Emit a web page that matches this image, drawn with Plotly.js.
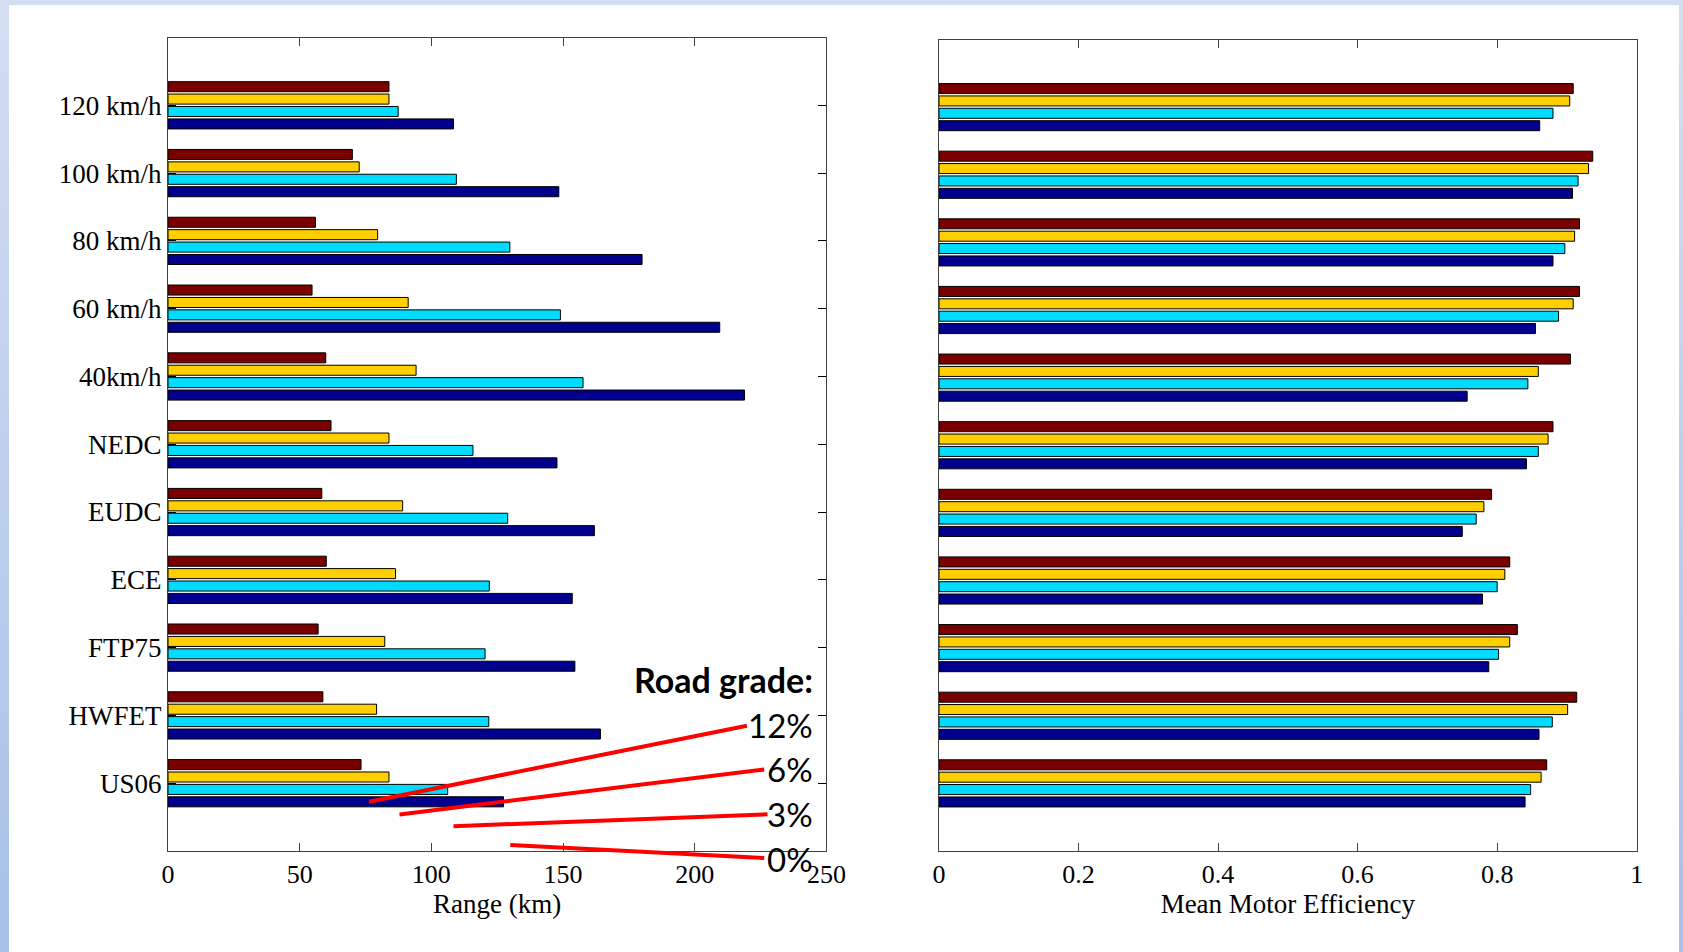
<!DOCTYPE html>
<html>
<head>
<meta charset="utf-8">
<script src="https://cdn.plot.ly/plotly-3.0.1.min.js"></script>
<style>
  html, body { margin: 0; padding: 0; background: #ffffff; width: 1683px; height: 952px; overflow: hidden; }
  #topstrip { position: absolute; left: 0; top: 0; width: 1683px; height: 5px; background: #d3dff1; }
  #leftstrip { position: absolute; left: 0; top: 0; width: 9px; height: 952px; background: linear-gradient(#d3dff1, #a8c0e8); }
  #rightstrip { position: absolute; left: 1679px; top: 0; width: 4px; height: 952px; background: linear-gradient(#d3dff1, #a8c0e8); }
  #chart { position: absolute; left: 0; top: 0; width: 1683px; height: 952px; }
</style>
</head>
<body>
<div id="topstrip"></div>
<div id="leftstrip"></div>
<div id="rightstrip"></div>
<div id="chart"></div>
<script>
// ---- data (bottom to top category order) ----
const categories = ["US06", "HWFET", "FTP75", "ECE", "EUDC", "NEDC", "40km/h", "60 km/h", "80 km/h", "100 km/h", "120 km/h"];
const gradeLabels = ["0%", "3%", "6%", "12%"];

// Range (km)
const range0  = [127.4, 164.2, 154.5, 153.5, 161.9, 147.7, 218.9, 209.5, 180.0, 148.4, 108.4];
const range3  = [106.2, 121.8, 120.4, 122.0, 129.0, 115.8, 157.6, 149.0, 129.8, 109.5, 87.4];
const range6  = [83.9, 79.2, 82.3, 86.4, 89.1, 83.9, 94.2, 91.2, 79.6, 72.6, 83.9];
const range12 = [73.3, 58.8, 57.0, 60.1, 58.4, 61.9, 59.9, 54.7, 56.0, 70.0, 83.9];

// Mean motor efficiency
const eff0  = [0.840, 0.860, 0.788, 0.779, 0.750, 0.842, 0.757, 0.855, 0.880, 0.908, 0.861];
const eff3  = [0.848, 0.879, 0.802, 0.800, 0.770, 0.859, 0.844, 0.888, 0.897, 0.916, 0.880];
const eff6  = [0.863, 0.901, 0.818, 0.811, 0.781, 0.873, 0.859, 0.909, 0.911, 0.931, 0.904];
const eff12 = [0.871, 0.914, 0.829, 0.818, 0.792, 0.880, 0.905, 0.918, 0.918, 0.937, 0.909];

const rangeTicks = [0, 50, 100, 150, 200, 250];
const effTicks = [0, 0.2, 0.4, 0.6, 0.8, 1];

// ---- styling ----
const colors = ["#00008c", "#00dcff", "#ffcf00", "#7a0000"];
const W = 1683, H = 952;
const px = v => v / W;
const py = v => 1 - v / H;

const rangeSeries = [range0, range3, range6, range12];
const effSeries = [eff0, eff3, eff6, eff12];

const traces = [];
rangeSeries.forEach((vals, i) => {
  traces.push({
    type: "bar", orientation: "h", x: vals, y: categories, name: gradeLabels[i],
    xaxis: "x", yaxis: "y",
    marker: { color: colors[i], line: { color: "#000000", width: 1 } },
    showlegend: false, hoverinfo: "x+y"
  });
});
effSeries.forEach((vals, i) => {
  traces.push({
    type: "bar", orientation: "h", x: vals, y: categories, name: gradeLabels[i],
    xaxis: "x2", yaxis: "y2",
    marker: { color: colors[i], line: { color: "#000000", width: 1 } },
    showlegend: false, hoverinfo: "x+y"
  });
});

const tickFont = { family: "Liberation Serif, Times New Roman, serif", size: 26, color: "#000000" };
const yTickFont = { family: "Liberation Serif, Times New Roman, serif", size: 27, color: "#000000" };
const titleFont = { family: "Liberation Serif, Times New Roman, serif", size: 27, color: "#000000" };
const noteFont = { family: "Lato, Open Sans, sans-serif", size: 33, color: "#000000" };

const axisCommon = {
  showline: true, linecolor: "#404040", linewidth: 1, mirror: true,
  showgrid: false, zeroline: false, automargin: false
};

const layout = {
  width: W, height: H,
  margin: { l: 0, r: 0, t: 0, b: 0 },
  paper_bgcolor: "rgba(0,0,0,0)",
  plot_bgcolor: "#ffffff",
  barmode: "group",
  bargap: 0.268,
  bargroupgap: 0.19,
  xaxis: Object.assign({}, axisCommon, {
    domain: [px(168), px(826.4)],
    range: [0, 250], tickvals: rangeTicks, ticktext: rangeTicks.map(String),
    ticks: "inside", ticklen: 8, tickcolor: "#404040", mirror: "ticks",
    tickfont: tickFont,
    title: { text: "Range (km)", font: titleFont, standoff: 5 },
    anchor: "y"
  }),
  yaxis: Object.assign({}, axisCommon, {
    domain: [py(851), py(37.5)],
    type: "category", categoryorder: "array", categoryarray: categories,
    range: [-1, 11],
    ticks: "inside", ticklen: 8, tickcolor: "#000000", mirror: "ticks",
    tickfont: yTickFont, ticklabelstandoff: 0,
    anchor: "x"
  }),
  xaxis2: Object.assign({}, axisCommon, {
    domain: [px(939), px(1636.7)],
    range: [0, 1], tickvals: effTicks, ticktext: effTicks.map(String),
    ticks: "inside", ticklen: 8, tickcolor: "#404040", mirror: "ticks",
    tickfont: tickFont,
    title: { text: "Mean Motor Efficiency", font: titleFont, standoff: 5 },
    anchor: "y2"
  }),
  yaxis2: Object.assign({}, axisCommon, {
    domain: [py(851), py(39.5)],
    type: "category", categoryorder: "array", categoryarray: categories,
    range: [-1, 11],
    ticks: "", showticklabels: false,
    anchor: "x2"
  }),
  shapes: [
    { type: "line", xref: "paper", yref: "paper", x0: px(746.9), y0: py(725.7), x1: px(369), y1: py(801.7), line: { color: "#ff0000", width: 4 } },
    { type: "line", xref: "paper", yref: "paper", x0: px(764.2), y0: py(769.5), x1: px(399.5), y1: py(814.4), line: { color: "#ff0000", width: 4 } },
    { type: "line", xref: "paper", yref: "paper", x0: px(767.5), y0: py(814.3), x1: px(453.5), y1: py(826.2), line: { color: "#ff0000", width: 4 } },
    { type: "line", xref: "paper", yref: "paper", x0: px(764.2), y0: py(858), x1: px(510.3), y1: py(844.9), line: { color: "#ff0000", width: 4 } }
  ],
  annotations: [
    { text: "<b>Road grade:</b>", xref: "paper", yref: "paper", x: px(815), y: py(679), xanchor: "right", yanchor: "middle", showarrow: false, font: Object.assign({}, noteFont, { size: 34 }) },
    { text: "12%", xref: "paper", yref: "paper", x: px(815), y: py(725), xanchor: "right", yanchor: "middle", showarrow: false, font: noteFont },
    { text: "6%", xref: "paper", yref: "paper", x: px(815), y: py(769), xanchor: "right", yanchor: "middle", showarrow: false, font: noteFont },
    { text: "3%", xref: "paper", yref: "paper", x: px(815), y: py(814), xanchor: "right", yanchor: "middle", showarrow: false, font: noteFont },
    { text: "0%", xref: "paper", yref: "paper", x: px(815), y: py(859), xanchor: "right", yanchor: "middle", showarrow: false, font: noteFont }
  ]
};

Plotly.newPlot("chart", traces, layout, { displayModeBar: false, staticPlot: true });
</script>
</body>
</html>
